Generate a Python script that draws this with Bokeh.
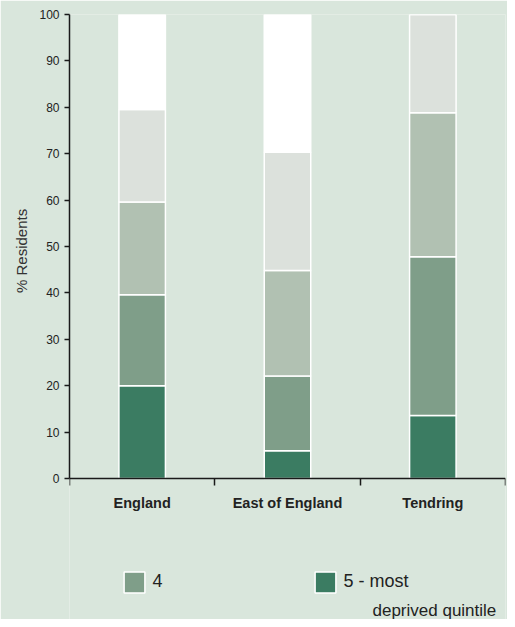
from bokeh.plotting import figure
from bokeh.models import (FixedTicker, Legend, LegendItem, ColumnDataSource, Range1d,
                          LinearAxis, Label, Title)
from bokeh.embed import file_html
from bokeh.resources import INLINE

categories = ["England", "East of England", "Tendring"]
q5 = [20.0, 6.0, 13.6]    # 5 - most deprived quintile
q4 = [19.6, 16.1, 34.2]
q3 = [20.0, 22.7, 31.0]
q2 = [19.9, 25.5, 21.2]
q1 = [20.5, 29.7, 0.0]    # 1 - least deprived quintile
y_ticks = [0, 10, 20, 30, 40, 50, 60, 70, 80, 90, 100]
legend_labels = ["4", "5 - most", "deprived quintile"]

colors = ["#3b7c62", "#7f9e89", "#b1c1b2", "#dce1dc", "#ffffff"]
BG = "#d9e6dc"
FONT = "Liberation Sans"

xs = [i + 0.5 for i in range(len(categories))]
source = ColumnDataSource(dict(x=xs, q5=q5, q4=q4, q3=q3, q2=q2, q1=q1))

# frame runs to the bottom of the figure so the legend can sit below the x axis
p = figure(width=507, height=619, output_backend="svg", toolbar_location=None,
           x_range=Range1d(0, len(categories)), y_range=Range1d(-30.39, 100),
           x_axis_location=None,
           min_border_left=69, min_border_right=2, min_border_top=14, min_border_bottom=0)
p.background_fill_color = BG
p.border_fill_color = BG
p.outline_line_color = None
p.xgrid.grid_line_color = None
p.ygrid.grid_line_color = None

rs = p.vbar_stack(["q5", "q4", "q3", "q2", "q1"], x="x", width=0.32, source=source,
                  fill_color=colors, line_color="white", line_width=1.5)

# y axis
p.yaxis.bounds = (0, 100)
p.yaxis.ticker = FixedTicker(ticks=y_ticks)
p.yaxis.major_tick_out = 5
p.yaxis.major_tick_in = 0
p.yaxis.minor_tick_line_color = None
p.yaxis.axis_line_width = 1.5
p.yaxis.axis_line_color = "#1a1a1a"
p.yaxis.major_tick_line_color = "#1a1a1a"
p.yaxis.major_tick_line_width = 1.5
p.yaxis.major_label_text_font = FONT
p.yaxis.major_label_text_font_size = "12px"
p.yaxis.major_label_text_color = "#222222"
p.yaxis.major_label_standoff = 5

# y-axis title, centred on the 0-100 part of the axis
ylabel = Title(text="% Residents", align="left", offset=326.5, standoff=14,
               text_font=FONT, text_font_size="15px", text_font_style="normal",
               text_color="#333333")
p.add_layout(ylabel, "left")

# x axis at y = 0: labels at centres, ticks at boundaries
xaxis = LinearAxis(fixed_location=0,
                   ticker=FixedTicker(ticks=xs, minor_ticks=list(range(len(categories) + 1))),
                   major_label_overrides={x: c for x, c in zip(xs, categories)})
xaxis.major_tick_in = 0
xaxis.major_tick_out = 0
xaxis.minor_tick_in = 0
xaxis.minor_tick_out = 7
xaxis.minor_tick_line_color = "#1a1a1a"
xaxis.minor_tick_line_width = 1.5
xaxis.axis_line_width = 1.5
xaxis.axis_line_color = "#1a1a1a"
xaxis.major_label_text_font = FONT
xaxis.major_label_text_font_size = "14.5px"
xaxis.major_label_text_font_style = "bold"
xaxis.major_label_text_color = "#222222"
xaxis.major_label_standoff = 10
p.add_layout(xaxis, "below")

legend = Legend(items=[LegendItem(label=legend_labels[0], renderers=[rs[1]]),
                       LegendItem(label=legend_labels[1], renderers=[rs[0]])],
                location=(52.4, 24.4), orientation="horizontal",
                glyph_width=26, glyph_height=26, label_standoff=5, label_width=20,
                spacing=140, padding=0, margin=0,
                label_text_font=FONT, label_text_font_size="18px", label_text_color="#222222",
                background_fill_alpha=0, border_line_alpha=0)
p.add_layout(legend)

p.add_layout(Label(x=303, y=9, x_units="screen", y_units="screen", text=legend_labels[2],
                   text_font=FONT, text_font_size="17px", text_color="#222222",
                   text_baseline="alphabetic"))

open("out.html", "w").write(file_html(p, INLINE))
